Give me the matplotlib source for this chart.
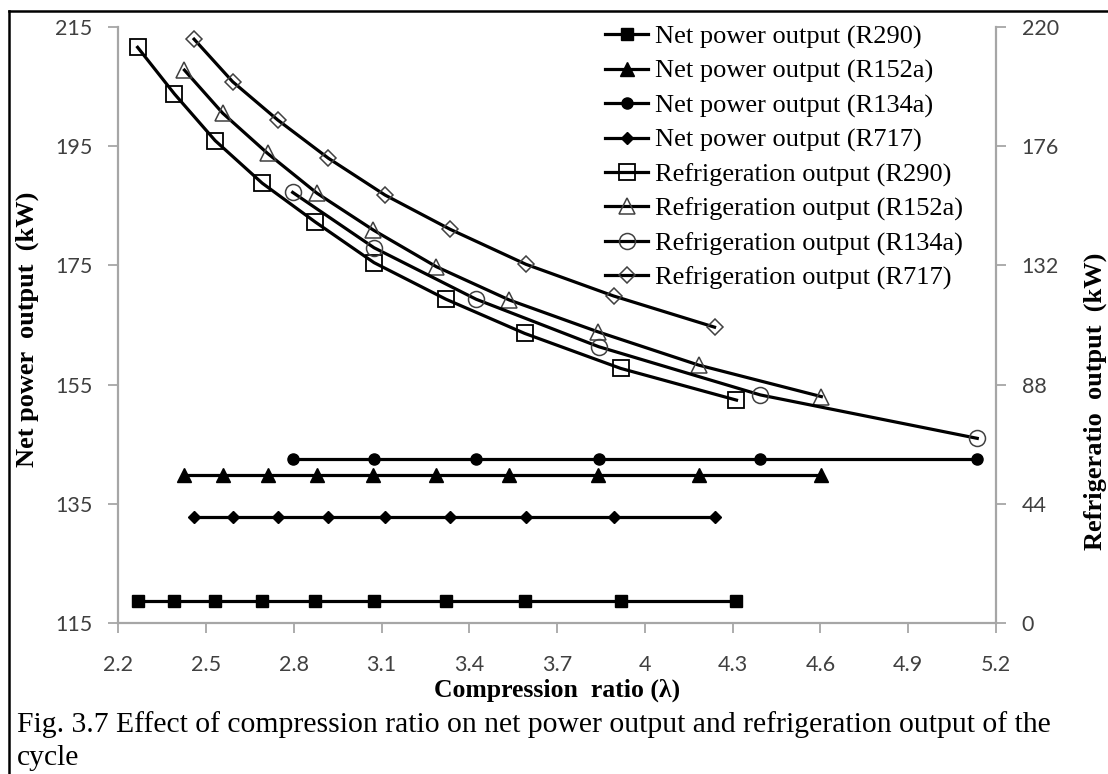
import matplotlib
matplotlib.use("Agg")
import matplotlib.pyplot as plt
from matplotlib.lines import Line2D

# ---------------- data ----------------
x_ticks = [2.2, 2.5, 2.8, 3.1, 3.4, 3.7, 4.0, 4.3, 4.6, 4.9, 5.2]
x_tick_labels = ["2.2", "2.5", "2.8", "3.1", "3.4", "3.7", "4", "4.3", "4.6", "4.9", "5.2"]
left_ticks = [115, 135, 155, 175, 195, 215]
right_ticks = [0, 44, 88, 132, 176, 220]

lam_r290 = [2.266, 2.392, 2.531, 2.692, 2.873, 3.074, 3.320, 3.589, 3.917, 4.313]
net_r290 = [118.8, 118.8, 118.8, 118.8, 118.8, 118.8, 118.8, 118.8, 118.8, 118.8]
ref_r290 = [212.4, 195.2, 178.0, 162.3, 148.0, 133.0, 119.5, 106.9, 94.0, 82.3]

lam_r152a = [2.426, 2.557, 2.710, 2.879, 3.072, 3.287, 3.537, 3.839, 4.184, 4.603]
net_r152a = [139.9, 139.9, 139.9, 139.9, 139.9, 139.9, 139.9, 139.9, 139.9, 139.9]
ref_r152a = [204.0, 188.1, 173.3, 158.6, 145.0, 131.5, 119.2, 107.5, 95.2, 83.6]

lam_r134a = [2.796, 3.074, 3.423, 3.842, 4.395, 5.136]
net_r134a = [142.5, 142.5, 142.5, 142.5, 142.5, 142.5]
ref_r134a = [158.9, 138.5, 119.5, 102.0, 84.2, 68.2]

lam_r717 = [2.459, 2.591, 2.745, 2.918, 3.112, 3.334, 3.593, 3.893, 4.238]
net_r717 = [132.8, 132.8, 132.8, 132.8, 132.8, 132.8, 132.8, 132.8, 132.8]
ref_r717 = [215.4, 199.7, 185.6, 171.5, 157.9, 145.3, 132.4, 120.7, 109.2]

labels = [
    "Net power output (R290)", "Net power output (R152a)",
    "Net power output (R134a)", "Net power output (R717)",
    "Refrigeration output (R290)", "Refrigeration output (R152a)",
    "Refrigeration output (R134a)", "Refrigeration output (R717)",
]

# ---------------- figure ----------------
W, H = 1108, 774
fig = plt.figure(figsize=(W / 100, H / 100), dpi=100)
fig.patch.set_facecolor("white")

L, R, T, B = 118.3, 996.0, 26.7, 623.3
ax = fig.add_axes([L / W, 1 - B / H, (R - L) / W, (B - T) / H])
ax2 = ax.twinx()

serif = "Liberation Serif"
tickfont = "Lato"
gray = "#a6a6a6"
lw = 2.3

# net power (left axis)
h1, = ax.plot(lam_r290, net_r290, color="black", lw=lw, marker="s", ms=8, mfc="black", mec="black", mew=1)
h2, = ax.plot(lam_r152a, net_r152a, color="black", lw=lw, marker="^", ms=10, mfc="black", mec="black", mew=1)
h3, = ax.plot(lam_r134a, net_r134a, color="black", lw=lw, marker="o", ms=8, mfc="black", mec="black", mew=1)
h4, = ax.plot(lam_r717, net_r717, color="black", lw=lw, marker="D", ms=6.3, mfc="black", mec="black", mew=1)

# refrigeration output (right axis)
h5, = ax2.plot(lam_r290, ref_r290, color="black", lw=lw, marker="s", ms=11.5, mfc="none", mec="black", mew=1.3)
h6, = ax2.plot(lam_r152a, ref_r152a, color="black", lw=lw, marker="^", ms=11.5, mfc="none", mec="#404040", mew=1.1)
h7, = ax2.plot(lam_r134a, ref_r134a, color="black", lw=lw, marker="o", ms=11.5, mfc="none", mec="#404040", mew=1.1)
h8, = ax2.plot(lam_r717, ref_r717, color="black", lw=lw, marker="D", ms=8, mfc="none", mec="#404040", mew=1.1)

ax.set_xlim(2.2, 5.2)
ax.set_ylim(115, 215)
ax2.set_ylim(0, 220)

ax.set_xticks(x_ticks)
ax.set_xticklabels(x_tick_labels)
ax.set_yticks(left_ticks)
ax.set_yticklabels([str(v) for v in left_ticks])
ax2.set_yticks(right_ticks)
ax2.set_yticklabels([str(v) for v in right_ticks])

for a in (ax, ax2):
    a.spines["top"].set_visible(False)
    for s in a.spines.values():
        s.set_color(gray)
        s.set_linewidth(1.6)
    a.tick_params(direction="out", length=7.5, width=1.3, color=gray,
                  labelsize=15.5, labelcolor="#404040")
    for lab in a.get_xticklabels() + a.get_yticklabels():
        lab.set_fontfamily(tickfont)
ax2.spines["left"].set_visible(False)
ax2.spines["bottom"].set_visible(False)
ax.spines["right"].set_visible(False)
ax.tick_params(axis="y", pad=11)
ax.tick_params(axis="x", pad=15)
ax2.tick_params(axis="y", pad=11)

# axis titles
fig.text(27 / W, 1 - 467 / H, "Net power  output  (kW)", rotation=90, rotation_mode="anchor",
         ha="left", va="center", fontsize=19, fontweight="bold", family=serif)
fig.text(1095 / W, 1 - 550 / H, "Refrigeratio  output  (kW)", rotation=90, rotation_mode="anchor",
         ha="left", va="center", fontsize=19, fontweight="bold", family=serif)
fig.text(557 / W, 1 - 690 / H, "Compression  ratio (λ)", ha="center", va="center",
         fontsize=18.5, fontweight="bold", family=serif)

# legend
leg = fig.legend([h1, h2, h3, h4, h5, h6, h7, h8], labels, loc="upper left",
                 bbox_to_anchor=(605 / W, 1 - 25 / H), frameon=False,
                 prop={"family": serif, "size": 19}, handlelength=1.63, handletextpad=0.27,
                 labelspacing=0.40, borderpad=0, borderaxespad=0, numpoints=1)

# caption
fig.text(17 / W, 1 - 732 / H,
         "Fig. 3.7 Effect of compression ratio on net power output and refrigeration output of the",
         ha="left", va="baseline", fontsize=21.3, family=serif)
fig.text(17 / W, 1 - 765 / H, "cycle", ha="left", va="baseline", fontsize=21.3, family=serif)

# frame lines (left and top)
fig.add_artist(Line2D([9 / W, 9 / W], [0, 1 - 11 / H], transform=fig.transFigure, color="black", lw=1.8))
fig.add_artist(Line2D([9 / W, 1], [1 - 11 / H, 1 - 11 / H], transform=fig.transFigure, color="black", lw=1.8))

fig.savefig("out.png", dpi=100)
